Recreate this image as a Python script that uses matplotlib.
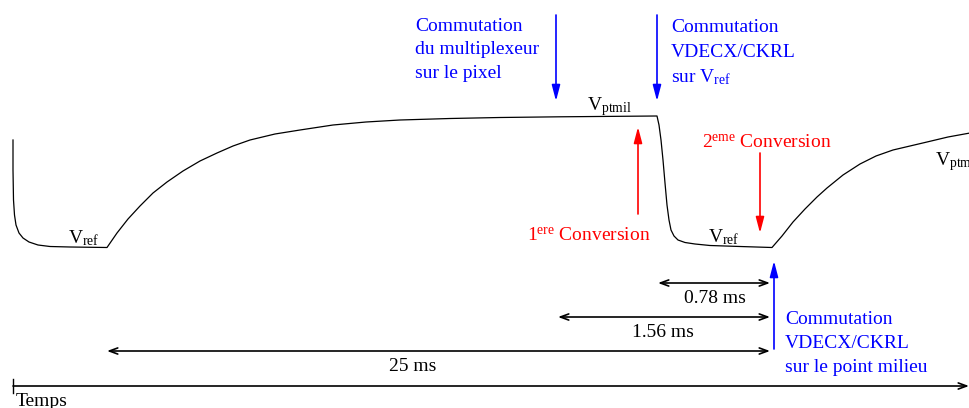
import matplotlib
matplotlib.use("Agg")
import matplotlib.pyplot as plt

plt.rcParams['font.family'] = ['Liberation Serif', 'DejaVu Serif']
plt.rcParams['mathtext.fontset'] = 'custom'
plt.rcParams['mathtext.rm'] = 'Liberation Serif'
plt.rcParams['mathtext.it'] = 'Liberation Serif:italic'

# waveform of the pixel output (horizontal: time, vertical: level, drawing units)
wave_t = [13, 13, 13.5, 14.5, 16, 19, 23, 29, 38, 50, 70, 107,
          117, 128, 140, 153, 167, 183, 200, 217, 233, 250, 275, 300,
          333, 366, 400, 450, 500, 560, 657,
          659, 661, 663, 665, 667, 669, 671, 674, 678, 685, 695, 710, 740, 772,
          782, 793, 805, 817, 827, 843, 860, 876, 893, 910, 927, 948, 970]
wave_v = [140, 170, 200, 215, 225, 233, 238, 242, 245, 246.5, 247, 247.5,
          233, 219, 206, 193, 182, 171, 161, 153, 146, 140, 134, 130,
          125, 122, 120, 118.5, 117.5, 116.8, 116,
          125, 140, 160, 183, 205, 220, 230, 236, 240, 242.5, 244, 245.5, 246.5, 247.5,
          236, 222, 209, 197, 188, 175, 164, 156, 150, 146, 142, 137, 133]

# durations measured back from the switch to the mid point
dur_labels = ["0.78 ms", "1.56 ms", "25 ms"]
dur_start = [658, 558, 107]
dur_end = 770

BLUE = "#0000ff"
RED = "#ff0000"
FS = 14

fig = plt.figure(figsize=(9.7, 4.08), dpi=100)
ax = fig.add_axes([0, 0, 1, 1])
ax.set_xlim(0, 970)
ax.set_ylim(408, 0)
ax.axis('off')

ax.plot(wave_t, wave_v, color='black', lw=0.9)


def arrow(x0, y0, x1, y1, color, style):
    ax.annotate('', xy=(x1, y1), xytext=(x0, y0),
                arrowprops=dict(arrowstyle=style, color=color, lw=1.2,
                                mutation_scale=10, shrinkA=0, shrinkB=0))


def lines(x, baselines, texts, color):
    for y, s in zip(baselines, texts):
        ax.text(x, y, s, color=color, fontsize=FS, va='baseline')


head = '-|>,head_length=0.95,head_width=0.25'

# switching events
arrow(556, 15, 556, 101, BLUE, head)
arrow(657, 15, 657, 101, BLUE, head)
arrow(774, 349, 774, 261, BLUE, head)

# conversions
arrow(638, 214, 638, 127, RED, head)
arrow(760, 153, 760, 233, RED, head)

lines(415, [31, 54, 78], ["Commutation", "du multiplexeur", "sur le pixel"], BLUE)
lines(671, [32, 57, 82], ["Commutation", "VDECX/CKRL", "sur V$_{\\mathrm{ref}}$"], BLUE)
lines(785, [324, 348, 372], ["Commutation", "VDECX/CKRL", "sur le point milieu"], BLUE)

ax.text(527, 241, "1$^{\\mathrm{ere}}$ Conversion", color=RED, fontsize=FS,
        va='baseline')
ax.text(702, 148, "2$^{\\mathrm{eme}}$ Conversion", color=RED, fontsize=FS,
        va='baseline')

ax.text(68, 243, "V$_{\\mathrm{ref}}$", fontsize=FS, va='baseline')
ax.text(708, 242, "V$_{\\mathrm{ref}}$", fontsize=FS, va='baseline')
ax.text(587, 110, "V$_{\\mathrm{ptmil}}$", fontsize=FS, va='baseline')
ax.text(935, 165, "V$_{\\mathrm{ptmil}}$", fontsize=FS, va='baseline')

# duration dimension lines
dim_style = '<->,head_length=0.6,head_width=0.22'
dur_y = [283, 317, 351]
label_x = [715, 663, 413]
for lab, x0, y, lx in zip(dur_labels, dur_start, dur_y, label_x):
    arrow(x0, y, dur_end, y, 'black', dim_style)
    ax.text(lx, y + 20, lab, fontsize=FS, ha='center', va='baseline')

# time axis
arrow(13, 386, 969, 386, 'black', '->,head_length=0.6,head_width=0.22')
ax.plot([13, 13], [379, 393], color='black', lw=1.0)
ax.text(16, 406, "Temps", fontsize=FS, va='baseline')

fig.savefig("out.png", dpi=100)
